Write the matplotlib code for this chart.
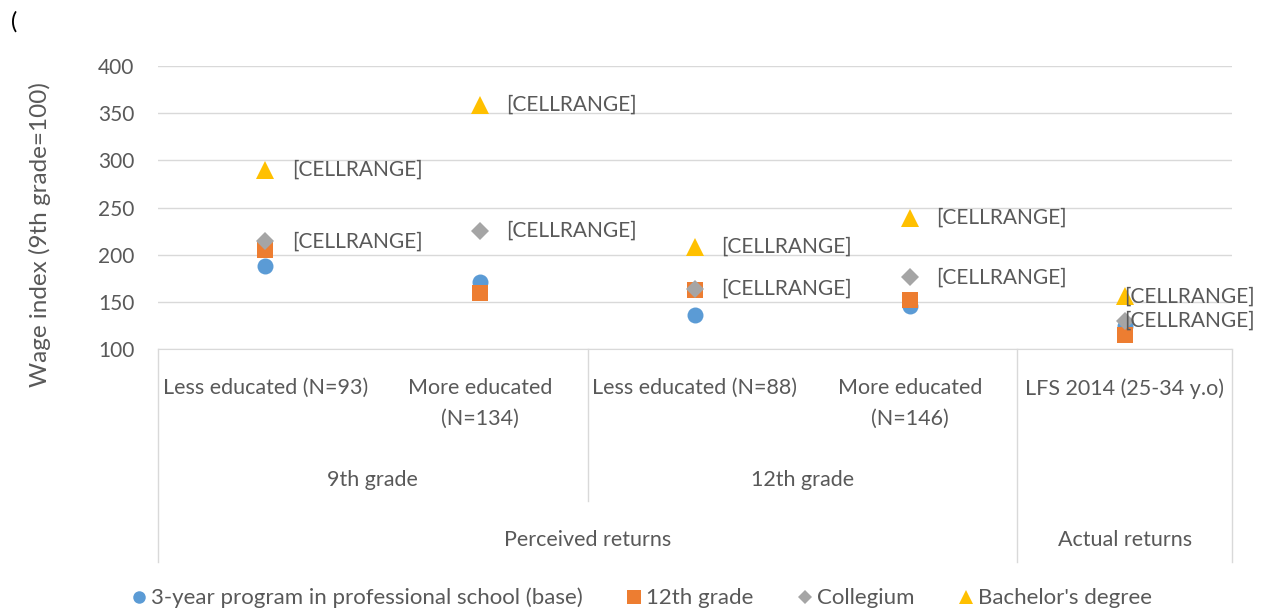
import matplotlib.pyplot as plt
from matplotlib.lines import Line2D

# categorias (nivel 1, 2 e 3 do eixo x)
categorias = ["Less educated (N=93)", "More educated\n(N=134)",
              "Less educated (N=88)", "More educated\n(N=146)",
              "LFS 2014 (25-34 y.o)"]
grupos = ["9th grade", "12th grade"]
retornos = ["Perceived returns", "Actual returns"]

# series
base_3anos = [188, 171, 136, 146, 124]
grau_12 = [205, 159, 163, 152, 115]
collegium = [214, 225, 164, 176, 130]
bachelor = [290, 359, 208, 239, 156]

rotulo = "[CELLRANGE]"

plt.rcParams['font.family'] = ['Lato', 'DejaVu Sans']
cor_txt = '#595959'
fs = 15.5

W, H = 1262, 611
fig = plt.figure(figsize=(W / 100, H / 100), dpi=100)
ax = fig.add_axes([158 / W, 1 - 349 / H, (1232 - 158) / W, (349 - 66) / H])

x = list(range(len(categorias)))
ax.plot(x, base_3anos, 'o', color='#5B9BD5', ms=11.5, mew=0, zorder=3)
ax.plot(x, grau_12, 's', color='#ED7D31', ms=12, mew=0, zorder=4)
ax.plot(x, collegium, 'D', color='#A5A5A5', ms=9, mew=0, zorder=5)
ax.plot(x, bachelor, '^', color='#FFC000', ms=13, mew=0, zorder=6)

# rotulos de dados (serie collegium e bachelor)
for i in x:
    dx = 19 if i < len(x) - 1 else 0
    for serie in (collegium, bachelor):
        ax.annotate(rotulo, (i, serie[i]), xytext=(dx, 0), textcoords='offset points',
                    va='center', ha='left', fontsize=15, color=cor_txt, zorder=7)

ax.set_xlim(-0.5, len(categorias) - 0.5)
ax.set_ylim(100, 400)
ax.set_yticks(range(100, 401, 50))
ax.yaxis.grid(True, color='#D9D9D9', lw=1)
ax.set_axisbelow(True)
ax.set_xticks([])
ax.tick_params(axis='y', length=0, labelsize=15, labelcolor=cor_txt, pad=17)
for s in ['top', 'right', 'left']:
    ax.spines[s].set_visible(False)
ax.spines['bottom'].set_color('#D9D9D9')

# eixo de categorias em varios niveis
tr = ax.get_xaxis_transform()
hpx = 349 - 66
def ya(px):
    return -(px - 349) / hpx

for i, c in enumerate(categorias):
    ax.text(i, ya(378), c, transform=tr, ha='center', va='top', fontsize=fs,
            color=cor_txt, linespacing=1.7)
ax.text(0.5, ya(480), grupos[0], transform=tr, ha='center', va='center', fontsize=fs, color=cor_txt)
ax.text(2.5, ya(480), grupos[1], transform=tr, ha='center', va='center', fontsize=fs, color=cor_txt)
ax.text(1.5, ya(540), retornos[0], transform=tr, ha='center', va='center', fontsize=fs, color=cor_txt)
ax.text(4, ya(540), retornos[1], transform=tr, ha='center', va='center', fontsize=fs, color=cor_txt)

for xv, fim in [(-0.5, 562), (1.5, 501), (3.5, 562), (4.5, 562)]:
    ax.add_line(Line2D([xv, xv], [0, ya(fim)], transform=tr, color='#D9D9D9',
                       lw=1, clip_on=False))

fig.text(40 / W, 1 - 235 / H, "Wage index (9th grade=100)", rotation=90,
         ha='center', va='center', fontsize=17.5, color=cor_txt)
fig.text(11 / W, 1 - 22 / H, "(", ha='left', va='center', fontsize=17, color='black')

# legenda
h = [Line2D([], [], marker='o', ls='', color='#5B9BD5', ms=9, mew=0),
     Line2D([], [], marker='s', ls='', color='#ED7D31', ms=10, mew=0),
     Line2D([], [], marker='D', ls='', color='#A5A5A5', ms=7, mew=0),
     Line2D([], [], marker='^', ls='', color='#FFC000', ms=10, mew=0)]
nomes = ["3-year program in professional school (base)", "12th grade", "Collegium", "Bachelor's degree"]
fig.legend(h, nomes, loc='center', bbox_to_anchor=(640 / W, 1 - 598 / H), ncol=4, frameon=False,
           fontsize=16, labelcolor=cor_txt, handletextpad=0.05, columnspacing=1.8, handlelength=1)

fig.savefig("out.png", dpi=100)
